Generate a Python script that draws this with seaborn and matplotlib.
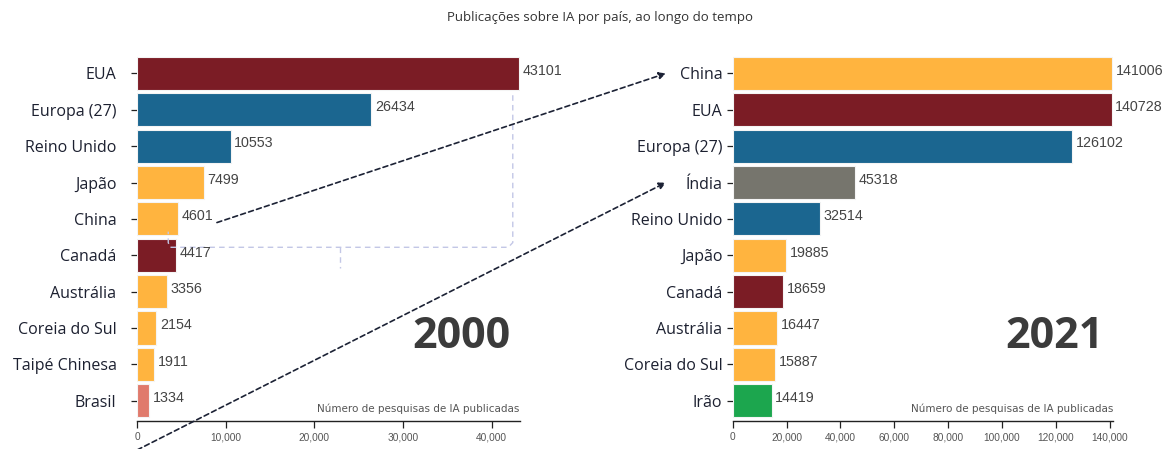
import matplotlib
matplotlib.use("Agg")
import matplotlib.pyplot as plt
import seaborn as sns
from matplotlib.patches import ConnectionPatch
from matplotlib.ticker import FuncFormatter

# ---------------- data ----------------
countries_2000 = ["EUA", "Europa (27)", "Reino Unido", "Japão", "China", "Canadá",
                  "Austrália", "Coreia do Sul", "Taipé Chinesa", "Brasil"]
values_2000 = [43101, 26434, 10553, 7499, 4601, 4417, 3356, 2154, 1911, 1334]

countries_2021 = ["China", "EUA", "Europa (27)", "Índia", "Reino Unido", "Japão",
                  "Canadá", "Austrália", "Coreia do Sul", "Irão"]
values_2021 = [141006, 140728, 126102, 45318, 32514, 19885, 18659, 16447, 15887, 14419]

ticks_2000 = [0, 10000, 20000, 30000, 40000]
ticks_2021 = [0, 20000, 40000, 60000, 80000, 100000, 120000, 140000]

RED, BLUE, ORANGE = "#7b1c25", "#1b6690", "#ffb43f"
palette = {
    "EUA": RED, "Canadá": RED,
    "Europa (27)": BLUE, "Reino Unido": BLUE,
    "Japão": ORANGE, "China": ORANGE, "Austrália": ORANGE,
    "Coreia do Sul": ORANGE, "Taipé Chinesa": ORANGE,
    "Brasil": "#e07a6c", "Índia": "#76756d", "Irão": "#1ca64e",
}

TXT = "#1c2030"

sns.set_theme(style="white")
plt.rcParams["font.family"] = ["Open Sans", "DejaVu Sans"]

fig = plt.figure(figsize=(11.63, 4.49), dpi=100)
ax1 = fig.add_axes([0.118, 0.062, 0.329, 0.815])
ax2 = fig.add_axes([0.630, 0.062, 0.327, 0.815])


def draw_panel(ax, countries, values, ticks, xmax, year, label_pad):
    sns.barplot(x=values, y=countries, hue=countries, palette=palette, legend=False,
                ax=ax, width=0.91, saturation=1, edgecolor="#f4f4f4", linewidth=0.8,
                orient="h")
    ax.set_xlim(0, xmax)
    ax.set_ylim(9.56, -0.5)
    for s in ["top", "right", "left"]:
        ax.spines[s].set_visible(False)
    ax.spines["bottom"].set_color("#222222")
    ax.spines["bottom"].set_linewidth(1.0)
    ax.set_xticks(ticks)
    ax.xaxis.set_major_formatter(FuncFormatter(lambda v, p: f"{int(v):,}"))
    ax.tick_params(axis="x", bottom=True, length=5, width=0.9, color="#222222",
                   labelsize=7.3, labelcolor="#555555", pad=3)
    ax.tick_params(axis="y", left=True, length=4, width=0.9, color="#222222",
                   labelsize=11.5, labelcolor=TXT, pad=label_pad)
    for lab in ax.get_xticklabels():
        lab.set_family(["Liberation Sans", "DejaVu Sans"])
    ax.set_xlabel("")
    ax.set_ylabel("")
    for i, v in enumerate(values):
        ax.annotate(str(v), xy=(v, i), xytext=(2.5, 2), textcoords="offset points",
                    ha="left", va="center", fontsize=10.3, color="#444444",
                    family=["Liberation Sans", "DejaVu Sans"])
    ax.text(0.975, 0.23, year, transform=ax.transAxes, ha="right", va="center",
            fontsize=31, fontweight="bold", color="#3b3b3b")
    ax.text(1.0, 0.035, "Número de pesquisas de IA publicadas", transform=ax.transAxes,
            ha="right", va="center", fontsize=7.5, color="#555555",
            family=["DejaVu Sans"])


draw_panel(ax1, countries_2000, values_2000, ticks_2000, 43200, "2000", 11)
draw_panel(ax2, countries_2021, values_2021, ticks_2021, 141200, "2021", 3.5)

# light dashed brace on the 2000 panel
brace_x = [42400, 42400, 41900, 3700, 3500, 3500]
brace_y = [0.6, 4.65, 4.78, 4.78, 4.65, 4.35]
ax1.plot(brace_x, brace_y, ls=(0, (4, 3)), color="#c3c7e6", lw=1.0, clip_on=False)
ax1.plot([22900, 22900], [4.78, 5.35], ls=(0, (4, 3)), color="#c3c7e6", lw=1.0,
         clip_on=False)

# dashed arrows linking the panels
for (xa, ya), (xb, yb) in [((9000, 4.1), (-24800, 0.0)), ((0, 10.35), (-24800, 3.0))]:
    con = ConnectionPatch(xyA=(xa, ya), coordsA=ax1.transData,
                          xyB=(xb, yb), coordsB=ax2.transData,
                          arrowstyle="-|>", linestyle=(0, (3, 2)), color="#1c2235",
                          lw=1.2, mutation_scale=10)
    fig.add_artist(con)

fig.suptitle("Publicações sobre IA por país, ao longo do tempo", x=0.516, y=0.975,
             fontsize=9.5, color="#333333")

fig.savefig("out.png", dpi=100, facecolor="white")
